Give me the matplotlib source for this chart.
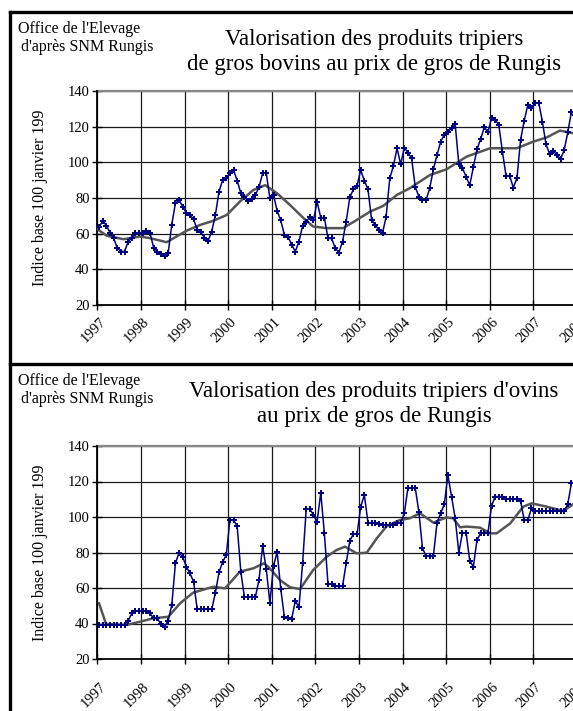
import numpy as np
import matplotlib
matplotlib.use("Agg")
import matplotlib.pyplot as plt
from matplotlib.lines import Line2D
from matplotlib.transforms import ScaledTranslation

# ---------------- data ----------------
years = list(range(1997, 2009))
year_labels = [str(y) for y in years]
y_ticks = [20, 40, 60, 80, 100, 120, 140]

# monthly index, Jan 1997 .. Dec 2007 (gros bovins)
bovins = [
    63.6, 67.2, 64.5, 60.6, 57.5, 51.9, 50.0, 50.0, 55.6, 57.5, 60.1, 60.1,
    60.4, 61.7, 60.4, 52.2, 49.8, 48.7, 47.7, 49.1, 65.1, 77.1, 78.9, 75.2,
    71.8, 70.5, 68.1, 62.1, 60.8, 57.5, 56.1, 61.2, 70.5, 83.6, 90.1, 91.4,
    93.9, 95.7, 89.7, 82.7, 80.4, 78.5, 79.3, 81.7, 86.0, 93.9, 93.9, 79.9,
    81.7, 72.8, 67.4, 59.2, 58.4, 53.7, 50.0, 55.6, 64.4, 66.8, 69.2, 67.4,
    78.0, 69.0, 69.0, 57.3, 57.3, 51.9, 49.4, 55.6, 66.8, 80.4, 84.9, 86.8,
    95.7, 89.6, 84.9, 67.7, 64.9, 62.1, 60.3, 69.6, 91.1, 98.0, 107.9, 98.9,
    108.2, 105.4, 102.3, 86.4, 80.8, 78.9, 78.9, 85.5, 96.1, 104.1, 111.6, 115.4,
    117.2, 119.1, 121.3, 99.1, 96.7, 92.0, 87.2, 97.2, 107.3, 112.9, 119.7, 116.9,
    124.7, 123.8, 121.0, 106.0, 92.4, 92.4, 85.8, 91.1, 112.6, 123.4, 132.2, 130.7,
    133.5, 133.5, 122.8, 110.1, 104.7, 106.4, 104.1, 101.9, 106.9, 116.9, 128.4, 126.6,
]

# trend line (gray) of bovins: date (decimal year), value
bovins_trend_t = [1997.0, 1997.22, 1997.6, 1997.98, 1998.21, 1998.59, 1999.05, 1999.36,
                  1999.66, 1999.97, 2000.27, 2000.58, 2000.85, 2001.12, 2001.42, 2001.73,
                  2001.95, 2002.26, 2002.64, 2002.95, 2003.26, 2003.56, 2003.87, 2004.17,
                  2004.63, 2005.01, 2005.47, 2006.01, 2006.62, 2007.0, 2007.31, 2007.61, 2007.91]
bovins_trend_v = [62.5, 58.8, 56.9, 58.4, 57.5, 55.2, 61.7, 64.9,
                  67.2, 70.5, 78.0, 84.5, 87.2, 82.7, 76.1, 68.7,
                  64.0, 63.1, 63.1, 67.7, 72.4, 75.6, 81.7, 85.5,
                  92.9, 96.1, 103.2, 107.9, 107.9, 111.6, 114.0, 117.8, 116.3]

# monthly index, Jan 1997 .. Dec 2007 (ovins)
ovins = [
    39.2, 39.2, 39.2, 39.2, 39.2, 39.2, 39.2, 39.2, 41.6, 45.7, 47.0, 47.0,
    47.0, 47.0, 45.7, 42.9, 42.9, 39.7, 38.2, 41.6, 50.4, 73.9, 79.9, 77.6,
    72.0, 68.3, 63.5, 48.0, 48.0, 48.0, 48.0, 48.0, 57.4, 68.8, 74.8, 78.6,
    98.3, 98.3, 94.9, 69.2, 54.8, 54.8, 54.8, 54.8, 64.5, 83.8, 70.7, 51.7,
    72.6, 80.1, 59.4, 43.5, 42.9, 42.5, 52.9, 49.1, 73.9, 104.5, 104.5, 101.1,
    97.4, 113.7, 90.8, 62.1, 62.1, 61.1, 61.1, 61.1, 73.9, 86.6, 90.4, 90.4,
    105.8, 112.4, 96.8, 96.8, 96.8, 96.1, 95.5, 95.5, 95.5, 95.5, 96.4, 96.8,
    102.1, 116.5, 116.5, 116.5, 103.0, 82.4, 78.0, 78.0, 78.0, 96.8, 102.1, 107.1,
    123.7, 111.5, 99.3, 79.9, 91.2, 91.2, 75.4, 72.0, 87.0, 90.8, 90.8, 90.8,
    106.2, 111.5, 111.5, 111.5, 110.0, 110.0, 110.0, 110.0, 109.0, 98.3, 98.3, 104.9,
    103.4, 103.4, 103.4, 103.4, 103.4, 103.4, 103.4, 103.4, 103.4, 107.3, 119.3, 119.3,
]

ovins_trend_t = [1997.04, 1997.20, 1997.67, 1997.98, 1998.28, 1998.63, 1998.90, 1999.20,
                 1999.66, 1999.93, 2000.27, 2000.58, 2000.82, 2000.92, 2001.19, 2001.42,
                 2001.65, 2001.95, 2002.26, 2002.49, 2002.68, 2002.95, 2003.18, 2003.41,
                 2003.64, 2003.94, 2004.17, 2004.40, 2004.71, 2005.01, 2005.16, 2005.32,
                 2005.47, 2005.78, 2006.01, 2006.16, 2006.47, 2006.77, 2006.96, 2007.31,
                 2007.69, 2007.92]
ovins_trend_v = [51.4, 39.7, 39.2, 41.0, 42.9, 43.8, 51.4, 57.4,
                 60.7, 59.8, 69.2, 71.1, 73.9, 72.0, 64.5, 60.4,
                 59.4, 70.1, 77.6, 81.4, 83.3, 79.5, 79.9, 88.0,
                 94.9, 98.3, 99.3, 102.1, 96.8, 99.8, 99.3, 94.2,
                 94.6, 94.0, 90.8, 90.8, 96.4, 105.8, 107.7, 105.8,
                 103.4, 107.3]

source_lines = ["Office de l'Elevage", "d'après SNM Rungis"]
title_top = ["Valorisation des produits tripiers", "de gros bovins au prix de gros de Rungis"]
title_bot = ["Valorisation des produits tripiers d'ovins", "au prix de gros de Rungis"]
ylabel = "Indice base 100 janvier 199"

# ---------------- figure ----------------
W, H = 573, 711
plt.rcParams['font.family'] = ['Liberation Serif', 'DejaVu Serif']
fig = plt.figure(figsize=(W / 100, H / 100), dpi=100)
fig.patch.set_facecolor('white')

def fx(px):
    return px / W

def fy(py):
    return 1 - py / H

BLUE = '#000080'
GRAY = '#555555'

def make_axes(top_px, bottom_px, series, trend_t, trend_v, label_pad):
    left_px = 97.3
    right_px = 97.3 + 11 * 43.6
    ax = fig.add_axes([fx(left_px), fy(bottom_px), fx(right_px) - fx(left_px),
                       fy(top_px) - fy(bottom_px)])
    ax.set_xlim(years[0], years[-1])
    ax.set_ylim(y_ticks[0], y_ticks[-1])
    ax.set_xticks(years)
    ax.set_xticklabels(year_labels, rotation=45, ha='center', fontsize=10.5)
    ax.set_yticks(y_ticks)
    ax.set_yticklabels([str(v) for v in y_ticks], fontsize=10.5)
    ax.grid(True, color='#1a1a1a', linewidth=0.9)
    ax.set_axisbelow(True)
    for s in ['top', 'right']:
        ax.spines[s].set_visible(False)
    for s in ['left', 'bottom']:
        ax.spines[s].set_linewidth(1.3)
        ax.spines[s].set_color('black')
    ax.tick_params(direction='inout', length=7, width=1.0, colors='black')
    ax.tick_params(axis='x', pad=label_pad)
    ax.tick_params(axis='y', pad=2)
    offset = ScaledTranslation(-4 / 100, 0, fig.dpi_scale_trans)
    for lab in ax.get_xticklabels():
        lab.set_transform(lab.get_transform() + offset)
    ax.axhline(y_ticks[-1], color='#888888', linewidth=1.6, clip_on=False)
    t = [years[0] + (i + 0.5) / 12 for i in range(len(series))]
    ax.plot(trend_t, trend_v, color=GRAY, linewidth=1.8, zorder=3)
    ax.plot(t, series, color=BLUE, linewidth=1.1, marker='P', markersize=4.2,
            markeredgewidth=0, zorder=4)
    ax.set_ylabel(ylabel, fontsize=11.5, labelpad=14)
    return ax

ax1 = make_axes(91, 305, bovins, bovins_trend_t, bovins_trend_v, 4)
ax2 = make_axes(446, 659, ovins, ovins_trend_t, ovins_trend_v, 12)

# panel texts
for base, title in [(0, title_top), (352, title_bot)]:
    fig.text(fx(18), fy(33 + base), source_lines[0], fontsize=11.5, ha='left', va='baseline')
    fig.text(fx(21), fy(51 + base), source_lines[1], fontsize=11.5, ha='left', va='baseline')
    fig.text(fx(374), fy(45 + base), title[0], fontsize=16.5, ha='center', va='baseline')
    fig.text(fx(374), fy(70 + base), title[1], fontsize=16.5, ha='center', va='baseline')

# outer frame lines
lw = 2.4
fig.add_artist(Line2D([fx(10), 1.0], [fy(12), fy(12)], color='black', linewidth=lw))
fig.add_artist(Line2D([fx(10), 1.0], [fy(364), fy(364)], color='black', linewidth=lw))
fig.add_artist(Line2D([fx(10), fx(10)], [fy(12), 0.0], color='black', linewidth=lw))

fig.savefig('out.png', dpi=100, facecolor='white')
